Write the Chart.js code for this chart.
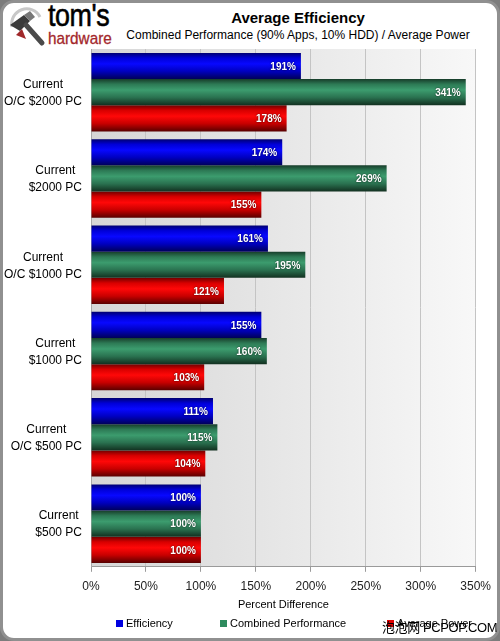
<!DOCTYPE html>
<html>
<head>
<meta charset="utf-8">
<script src="https://cdn.jsdelivr.net/npm/chart.js@4.4.1/dist/chart.umd.min.js"></script>
<style>
html, body { margin: 0; padding: 0; background: #7c7c7c; }
#frame { position: absolute; left: 0; top: 0; width: 500px; height: 641px; box-sizing: border-box;
  border: 3px solid #909090; border-radius: 14px; background: #fff; }
#wrap { position: absolute; left: 0; top: 0; width: 500px; height: 641px; }
.t { position: absolute; font-family: "Liberation Sans", Arial, sans-serif; color: #000; white-space: nowrap; }
#legend { position: absolute; top: 617px; left: 0; width: 500px; height: 14px; }
.li { position: absolute; font: 11px "Liberation Sans", Arial, sans-serif; color: #000; }
.li i { display: inline-block; width: 7px; height: 7px; margin-right: 3px; vertical-align: 0px; }
</style>
</head>
<body>
<div id="frame"></div>

<svg class="t" style="left:6px;top:5px" width="42" height="42" viewBox="0 0 42 42">
  <path d="M6 22 A15 15 0 0 1 34 12" fill="none" stroke="#c8c8c8" stroke-width="3"/>
  <path d="M4 20 L18 10 L24 16 L14 26 Z" fill="#3a3a3a"/>
  <path d="M18 10 L24 6 L29 12 L24 16 Z" fill="#777"/>
  <line x1="20" y1="20" x2="36" y2="38" stroke="#4a4a4a" stroke-width="5" stroke-linecap="round"/>
  <path d="M10 30 L16 24 L20 34 Z" fill="#a0282a"/>
</svg>
<div class="t" style="left:48px;top:-3px;font-size:32px;transform:scaleX(0.84);transform-origin:0 0;letter-spacing:-0.5px;-webkit-text-stroke:0.6px #000">tom's</div>
<div class="t" style="left:48px;top:29px;font-size:17px;color:#a3272b;transform:scaleX(0.9);transform-origin:0 0;-webkit-text-stroke:0.3px #a3272b">hardware</div>

<div class="t" style="left:120px;width:356px;top:9px;text-align:center;font-size:15px;font-weight:bold">Average Efficiency</div>
<div class="t" style="left:120px;width:356px;top:28px;text-align:center;font-size:12px">Combined Performance (90% Apps, 10% HDD) / Average Power</div>

<div id="wrap"><canvas id="chart" width="500" height="641"></canvas></div>
<div id="legend"></div>
<div class="t" style="left:382px;top:617px;font-size:13px;letter-spacing:-0.4px"><span style="font-family:'Noto Sans CJK SC'">泡泡网</span> PCPOP.COM</div>

<script>
// данные
const categories = [
    ['Current', 'O/C $2000 PC'],
    ['Current', '$2000 PC'],
    ['Current', 'O/C $1000 PC'],
    ['Current', '$1000 PC'],
    ['Current', 'O/C $500 PC'],
    ['Current', '$500 PC']
];
const seriesNames = ['Efficiency', 'Combined Performance', 'Average Power'];
const efficiency = [191, 174, 161, 155, 111, 100];
const combinedPerformance = [341, 269, 195, 160, 115, 100];
const averagePower = [178, 155, 121, 103, 104, 100];
const xTicks = [0, 50, 100, 150, 200, 250, 300, 350];

const FONT = '"Liberation Sans", Arial, sans-serif';
const CAT_PCT = 0.91;

// цвета баров: тёмный край, светлая середина, тёмный низ
const shades = [
    ['#000070', '#0000d8', '#0808ff', '#0000c0', '#000058'],
    ['#173d2a', '#2d7a55', '#3c9c6e', '#2a7250', '#123020'],
    ['#700000', '#d80000', '#ff0808', '#c80000', '#580000']
];
const flat = ['#0000e0', '#2e8b5e', '#e00000'];

function barFill(k) {
    return function (c) {
        const chart = c.chart;
        const ys = chart.scales.y;
        if (c.type !== 'data' || !chart.chartArea || !ys) return flat[k];
        const band = (ys.bottom - ys.top) / categories.length;
        const group = band * CAT_PCT;
        const size = group / 3;
        const top = ys.getPixelForValue(c.dataIndex) - group / 2 + size * k;
        const g = chart.ctx.createLinearGradient(0, top, 0, top + size);
        const s = shades[k];
        g.addColorStop(0, s[0]);
        g.addColorStop(0.2, s[1]);
        g.addColorStop(0.42, s[2]);
        g.addColorStop(0.7, s[3]);
        g.addColorStop(1, s[4]);
        return g;
    };
}

// фон области графика
const plotBackground = {
    id: 'plotBackground',
    beforeDraw(chart) {
        const a = chart.chartArea;
        const ctx = chart.ctx;
        const g = ctx.createLinearGradient(a.left, 0, a.right, 0);
        g.addColorStop(0, '#d6d6d6');
        g.addColorStop(1, '#f8f8f8');
        ctx.save();
        ctx.fillStyle = g;
        ctx.fillRect(a.left, a.top, a.right - a.left, a.bottom - a.top);
        ctx.restore();
    }
};

// подписи значений внутри баров
const valueLabels = {
    id: 'valueLabels',
    afterDatasetsDraw(chart) {
        const ctx = chart.ctx;
        ctx.save();
        ctx.font = 'bold 10px ' + FONT;
        ctx.textAlign = 'right';
        ctx.textBaseline = 'middle';
        ctx.fillStyle = '#fff';
        ctx.shadowColor = 'rgba(0,0,0,0.8)';
        ctx.shadowBlur = 2;
        chart.data.datasets.forEach((ds, i) => {
            chart.getDatasetMeta(i).data.forEach((el, j) => {
                ctx.fillText(ds.data[j] + '%', el.x - 5, el.y + 1);
            });
        });
        ctx.restore();
    }
};

// подписи категорий: блок по правому краю, строки по центру
const categoryLabels = {
    id: 'categoryLabels',
    afterDraw(chart) {
        const ctx = chart.ctx;
        const ys = chart.scales.y;
        ctx.save();
        ctx.font = '12px ' + FONT;
        ctx.fillStyle = '#000';
        ctx.textAlign = 'center';
        ctx.textBaseline = 'middle';
        categories.forEach((lines, i) => {
            const w = Math.max(...lines.map(l => ctx.measureText(l).width));
            const cx = 82 - w / 2;
            const cy = ys.getPixelForValue(i) + 1;
            lines.forEach((l, n) => {
                ctx.fillText(l, cx, cy + (n - (lines.length - 1) / 2) * 17);
            });
        });
        ctx.restore();
    }
};

const config = {
    type: 'bar',
    data: {
        labels: categories,
        datasets: [
            { label: seriesNames[0], data: efficiency, backgroundColor: barFill(0) },
            { label: seriesNames[1], data: combinedPerformance, backgroundColor: barFill(1) },
            { label: seriesNames[2], data: averagePower, backgroundColor: barFill(2) }
        ]
    },
    options: {
        indexAxis: 'y',
        responsive: false,
        animation: false,
        categoryPercentage: CAT_PCT,
        barPercentage: 1,
        layout: { padding: { top: 49, left: 3, right: 20, bottom: 25 } },
        plugins: {
            legend: { display: false },
            tooltip: { enabled: false }
        },
        scales: {
            x: {
                min: 0,
                max: 350,
                afterBuildTicks(scale) { scale.ticks = xTicks.map(v => ({ value: v })); },
                ticks: { callback: v => v + '%', color: '#222', font: { family: FONT, size: 12, lineHeight: 1 }, padding: 9, maxRotation: 0 },
                grid: { color: '#c4c4c4', tickLength: 5, tickColor: '#9a9a9a' },
                border: { color: '#9a9a9a' },
                title: { display: true, text: 'Percent Difference', color: '#000', font: { family: FONT, size: 11 }, padding: { top: -3, bottom: 4 } }
            },
            y: {
                ticks: { display: false },
                grid: { display: false },
                border: { color: '#a8a8a8' },
                afterFit(scale) { scale.width = 88; }
            }
        }
    },
    plugins: [plotBackground, valueLabels, categoryLabels]
};

const myChart = new Chart(document.getElementById('chart').getContext('2d'), config);

// легенда
const legendX = [116, 220, 387];
const legend = document.getElementById('legend');
seriesNames.forEach((name, i) => {
    const d = document.createElement('div');
    d.className = 'li';
    d.style.left = legendX[i] + 'px';
    d.innerHTML = '<i style="background:' + flat[i] + '"></i>' + name;
    legend.appendChild(d);
});
</script>
</body>
</html>
